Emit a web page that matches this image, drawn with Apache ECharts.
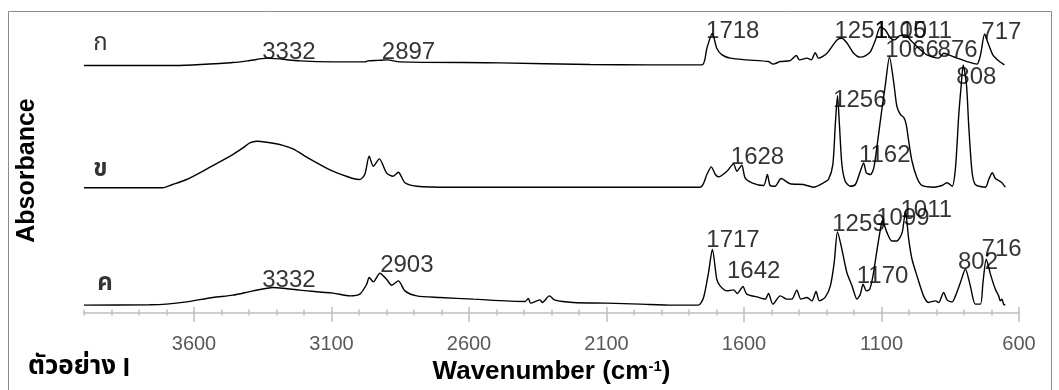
<!DOCTYPE html>
<html><head><meta charset="utf-8">
<script src="https://cdn.jsdelivr.net/npm/echarts@6/dist/echarts.min.js"></script>
<style>html,body{margin:0;padding:0;background:#fff}#c{width:1059px;height:390px}</style>
</head><body><div id="c"></div><script>
// ---- data: [wavenumber (cm-1), absorbance (offset display)] ----
const spectrumA = [[4000,2.483],[3688,2.483],[3459,2.513],[3397,2.533],[3335,2.557],[3215,2.53],[3095,2.52],[2978,2.52],[2968,2.53],[2931,2.535],[2898,2.54],[2852,2.52],[2487,2.51],[2160,2.493],[1941,2.49],[1753,2.49],[1735,2.657],[1715,2.807],[1699,2.657],[1680,2.59],[1650,2.557],[1590,2.54],[1511,2.523],[1494,2.497],[1468,2.523],[1432,2.533],[1410,2.583],[1398,2.54],[1371,2.557],[1355,2.54],[1341,2.613],[1329,2.557],[1298,2.607],[1262,2.74],[1244,2.757],[1225,2.707],[1201,2.607],[1177,2.567],[1159,2.58],[1140,2.623],[1122,2.74],[1104,2.87],[1086,2.84],[1067,2.757],[1052,2.74],[1035,2.78],[1013,2.79],[995,2.74],[971,2.673],[935,2.59],[892,2.557],[874,2.607],[856,2.59],[825,2.557],[789,2.523],[753,2.497],[740,2.59],[725,2.8],[714,2.72],[695,2.59],[671,2.523],[653,2.49]];
const spectrumB = [[4000,1.257],[3714,1.257],[3677,1.29],[3627,1.34],[3579,1.407],[3518,1.50],[3459,1.59],[3422,1.657],[3397,1.707],[3372,1.723],[3336,1.713],[3277,1.683],[3240,1.647],[3179,1.547],[3095,1.423],[3022,1.35],[2997,1.34],[2979,1.39],[2963,1.573],[2948,1.473],[2926,1.547],[2900,1.407],[2876,1.373],[2857,1.413],[2833,1.307],[2790,1.273],[2669,1.263],[1759,1.263],[1735,1.39],[1719,1.467],[1704,1.39],[1693,1.367],[1662,1.423],[1638,1.497],[1626,1.423],[1608,1.483],[1596,1.357],[1571,1.307],[1529,1.28],[1515,1.39],[1505,1.28],[1487,1.273],[1465,1.35],[1432,1.297],[1384,1.29],[1347,1.263],[1311,1.307],[1293,1.34],[1277,1.49],[1268,1.89],[1260,2.18],[1253,1.89],[1244,1.49],[1232,1.323],[1214,1.273],[1195,1.29],[1177,1.423],[1165,1.507],[1155,1.407],[1140,1.39],[1128,1.457],[1114,1.723],[1098,2.057],[1086,2.29],[1071,2.57],[1056,2.323],[1044,2.073],[1031,1.99],[1019,1.963],[1010,1.89],[1001,1.723],[989,1.523],[971,1.357],[953,1.28],[910,1.263],[880,1.28],[862,1.307],[843,1.273],[831,1.457],[819,1.99],[810,2.29],[803,2.49],[791,2.29],[783,1.89],[771,1.423],[759,1.29],[722,1.263],[710,1.34],[697,1.407],[686,1.35],[674,1.33],[662,1.307],[650,1.263]];
const spectrumC = [[4000,0.08],[3761,0.083],[3700,0.09],[3627,0.113],[3531,0.157],[3458,0.18],[3385,0.223],[3312,0.257],[3215,0.23],[3094,0.20],[3033,0.173],[2997,0.19],[2972,0.29],[2963,0.357],[2948,0.313],[2924,0.40],[2900,0.34],[2881,0.28],[2857,0.323],[2833,0.223],[2790,0.173],[2706,0.157],[2584,0.14],[2396,0.117],[2384,0.147],[2376,0.10],[2342,0.133],[2333,0.107],[2308,0.173],[2287,0.13],[2221,0.107],[2099,0.10],[1978,0.09],[1857,0.08],[1766,0.08],[1747,0.157],[1729,0.407],[1715,0.64],[1699,0.34],[1687,0.273],[1662,0.223],[1638,0.233],[1624,0.197],[1604,0.267],[1590,0.19],[1553,0.163],[1523,0.14],[1511,0.197],[1495,0.09],[1468,0.173],[1444,0.14],[1426,0.14],[1408,0.23],[1393,0.14],[1371,0.157],[1353,0.123],[1338,0.217],[1326,0.123],[1305,0.157],[1286,0.273],[1272,0.507],[1260,0.813],[1244,0.64],[1226,0.407],[1207,0.273],[1189,0.14],[1177,0.19],[1167,0.29],[1155,0.223],[1143,0.24],[1131,0.373],[1116,0.64],[1104,0.84],[1097,0.93],[1080,0.807],[1062,0.723],[1044,0.723],[1025,0.807],[1013,1.02],[1001,0.74],[989,0.54],[971,0.373],[947,0.173],[929,0.107],[904,0.123],[892,0.107],[874,0.207],[861,0.13],[843,0.113],[831,0.173],[813,0.307],[795,0.44],[777,0.273],[759,0.09],[740,0.09],[731,0.307],[719,0.54],[702,0.373],[686,0.24],[674,0.173],[668,0.123],[662,0.14],[656,0.09],[650,0.08]];

// peak labels: [labelled wavenumber, label height]
const peaksA = [[3332,2.62],[2897,2.62],[1718,2.825],[1251,2.823],[1105,2.823],[1011,2.823],[876,2.64],[717,2.82]];
const peaksB = [[1066,2.64],[808,2.36],[1256,2.13],[1628,1.565],[1162,1.58]];
const peaksC = [[3332,0.33],[2903,0.48],[1717,0.73],[1642,0.42],[1259,0.89],[1099,0.95],[1011,1.03],[1170,0.37],[802,0.51],[716,0.64]];

const traceNames = ['ก','ข','ค'];
const traceNameAt = [[3968,2.69],[3968,1.42],[3954,0.28]];

const majorTicks = [3600,3100,2600,2100,1600,1100,600];
const minorTicks = [4000,3900,3800,3700,3500,3400,3300,3200,3000,2900,2800,2700,2500,2400,2300,2200,2000,1900,1800,1700,1500,1400,1300,1200,1000,900,800,700];

const xTitle = 'Wavenumber (cm';
const xTitleSup = '-1';
const yTitle = 'Absorbance';
const sampleText = 'ตัวอย่าง';
const sampleId = 'I';

// ---- chart ----
const FONT = '"Liberation Sans", Arial, Helvetica, sans-serif';
const THAI = '"Noto Sans Thai", "Noto Sans Thai UI", Tahoma, "Leelawadee UI", sans-serif';
const AX = '#bfbfbf';

function xAx(extra){
  return Object.assign({type:'value', min:600, max:4000, inverse:true, position:'bottom',
    splitLine:{show:false}, axisLine:{show:false}, axisLabel:{show:false}, axisTick:{show:false}}, extra);
}
const tickStyle = {color:AX, width:1.5};

const lineSeries = [spectrumA, spectrumB, spectrumC].map(d => ({
  type:'line', data:d, showSymbol:false, symbol:'none', silent:true, animation:false,
  smooth:0.25, lineStyle:{color:'#000', width:1.4}
}));
const labelSeries = [peaksA, peaksB, peaksC].map(d => ({
  type:'scatter', data:d, symbolSize:1, silent:true, animation:false,
  itemStyle:{color:'rgba(0,0,0,0)'}, z:5,
  label:{show:true, position:'right', distance:0, offset:[-6,0], formatter:p => String(p.value[0]),
    fontSize:24, fontFamily:FONT, color:'#000'}
}));
const nameSeries = {
  type:'scatter', symbolSize:1, silent:true, animation:false, itemStyle:{color:'rgba(0,0,0,0)'},
  data: traceNames.map((n,i) => ({name:n, value:traceNameAt[i], label:{fontWeight: i ? 'bold' : 'normal'}})),
  label:{show:true, position:'right', distance:0, formatter:'{b}', fontSize:24, fontFamily:THAI, color:'#000'}
};

const chart = echarts.init(document.getElementById('c'), null, {renderer:'canvas'});
chart.setOption({
  backgroundColor:'#fff',
  animation:false,
  grid:{left:84, right:40, top:14, bottom:76},
  xAxis:[
    xAx({axisLine:{show:true, lineStyle:{color:AX, width:1.5}},
      axisTick:{show:true, customValues:majorTicks, length:9, lineStyle:tickStyle},
      axisLabel:{show:true, customValues:majorTicks, margin:21, color:'#595959', fontSize:20, fontFamily:FONT,
        formatter:v => String(v)},
      name:'{b|' + xTitle + '}{s|' + xTitleSup + '}{b|)}', nameLocation:'middle', nameGap:36,
      nameTextStyle:{rich:{
        b:{fontSize:26, fontWeight:'bold', fontFamily:FONT, color:'#000'},
        s:{fontSize:15, fontWeight:'bold', fontFamily:FONT, color:'#000', verticalAlign:'top'}}}}),
    xAx({axisTick:{show:true, inside:true, customValues:majorTicks, length:6, lineStyle:tickStyle}, axisLabel:{show:false, customValues:majorTicks}}),
    xAx({axisTick:{show:true, customValues:minorTicks, length:2.5, lineStyle:tickStyle}, axisLabel:{show:false, customValues:minorTicks}}),
    xAx({axisTick:{show:true, inside:true, customValues:minorTicks, length:3.5, lineStyle:tickStyle}, axisLabel:{show:false, customValues:minorTicks}})
  ],
  yAxis:{type:'value', min:0, max:3, show:false},
  series:[...lineSeries, ...labelSeries, nameSeries],
  graphic:[
    {type:'rect', silent:true, shape:{x:8.5, y:11.5, width:1043, height:400}, style:{fill:'none', stroke:'#8c8c8c', lineWidth:1}},
    {type:'text', silent:true, x:27.5, y:170.5, rotation:Math.PI/2,
      style:{text:yTitle, fontSize:25, fontWeight:'bold', fontFamily:FONT, fill:'#000', align:'center', verticalAlign:'middle'}},
    {type:'text', silent:true, x:28, y:369,
      style:{text:'{t|' + sampleText + ' }{b|' + sampleId + '}', verticalAlign:'middle', align:'left',
        rich:{t:{fontSize:26, fontFamily:THAI, fill:'#000', fontWeight:'bold'}, b:{fontSize:26, fontFamily:FONT, fontWeight:'bold', fill:'#000'}}}}
  ]
});
</script></body></html>
